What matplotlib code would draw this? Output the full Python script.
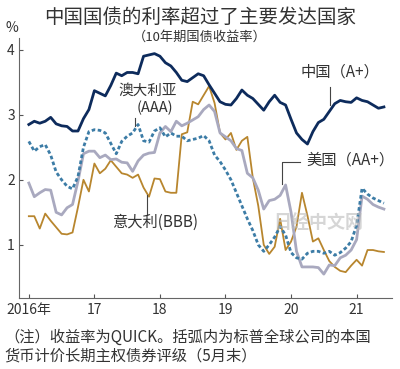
import numpy as np
import matplotlib
matplotlib.use("Agg")
import matplotlib.pyplot as plt

plt.rcParams['font.family'] = ['Noto Sans CJK SC', 'DejaVu Sans']

# monthly 10-year yields, Jan 2016 .. Jun 2021 (%)
china = [2.85, 2.90, 2.87, 2.90, 2.96, 2.86, 2.83, 2.82, 2.75, 2.75, 2.94, 3.08,
         3.37, 3.33, 3.29, 3.45, 3.64, 3.60, 3.65, 3.65, 3.63, 3.90, 3.92, 3.94,
         3.90, 3.80, 3.75, 3.65, 3.53, 3.51, 3.57, 3.63, 3.60, 3.46, 3.33, 3.20,
         3.16, 3.15, 3.25, 3.38, 3.30, 3.25, 3.16, 3.07, 3.20, 3.30, 3.19, 3.15,
         2.93, 2.72, 2.62, 2.55, 2.74, 2.88, 2.93, 3.05, 3.17, 3.22, 3.20, 3.19,
         3.26, 3.22, 3.20, 3.15, 3.10, 3.12]
australia = [2.59, 2.44, 2.51, 2.54, 2.38, 2.12, 2.00, 1.90, 1.86, 2.05, 2.50, 2.74,
             2.77, 2.76, 2.72, 2.56, 2.40, 2.59, 2.67, 2.72, 2.85, 2.60, 2.58, 2.75,
             2.80, 2.66, 2.72, 2.67, 2.67, 2.60, 2.62, 2.64, 2.68, 2.60, 2.38, 2.28,
             2.15, 2.00, 1.80, 1.60, 1.40, 1.22, 1.00, 0.90, 1.00, 1.12, 1.28, 1.15,
             0.88, 0.80, 0.78, 0.87, 0.90, 0.90, 0.87, 0.90, 0.84, 0.88, 0.95, 1.05,
             1.30, 1.87, 1.78, 1.72, 1.68, 1.64]
usa = [1.95, 1.74, 1.80, 1.85, 1.84, 1.50, 1.46, 1.57, 1.62, 1.98, 2.40, 2.44,
       2.44, 2.34, 2.38, 2.31, 2.32, 2.27, 2.26, 2.13, 2.29, 2.38, 2.41, 2.42,
       2.72, 2.82, 2.74, 2.90, 2.83, 2.87, 2.92, 2.97, 3.08, 3.15, 3.05, 2.72,
       2.66, 2.60, 2.48, 2.45, 2.10, 2.03, 1.84, 1.55, 1.68, 1.70, 1.76, 1.92,
       1.50, 0.90, 0.66, 0.66, 0.66, 0.65, 0.55, 0.69, 0.68, 0.80, 0.84, 0.92,
       1.08, 1.75, 1.70, 1.62, 1.58, 1.55]
italy = [1.44, 1.44, 1.25, 1.48, 1.37, 1.27, 1.17, 1.16, 1.19, 1.58, 2.00, 1.82,
         2.25, 2.10, 2.17, 2.30, 2.20, 2.10, 2.08, 2.03, 2.08, 1.88, 1.74, 2.02,
         2.01, 1.82, 1.80, 1.80, 2.70, 2.73, 3.20, 3.16, 3.30, 3.44, 3.18, 2.72,
         2.62, 2.72, 2.46, 2.60, 2.66, 2.03, 1.60, 1.00, 0.86, 0.97, 1.40, 0.92,
         1.05, 1.28, 1.80, 1.45, 1.05, 1.10, 0.92, 0.75, 0.66, 0.60, 0.58, 0.68,
         0.77, 0.68, 0.92, 0.92, 0.90, 0.89]

x = 2016 + np.arange(len(china)) / 12
xticks = [2016, 2017, 2018, 2019, 2020, 2021]
xlabels = ["2016年", "17", "18", "19", "20", "21"]

fig = plt.figure(figsize=(4, 3.69), dpi=100)
ax = fig.add_axes([0.0475, 0.192, 0.9325, 0.705])

ax.plot(x, italy, color="#b8862e", lw=1.3)
ax.plot(x, usa, color="#a9a9bf", lw=2.0)
ax.plot(x, australia, color="#3c7ca6", lw=2.0, linestyle=(0, (1.3, 0.9)))
ax.plot(x, china, color="#0d2b5c", lw=2.0)

ax.set_xlim(2015.85, 2021.54)
ax.set_ylim(0.18, 4.18)
ax.set_xticks(xticks)
ax.set_xticklabels(xlabels)
ax.set_yticks([1, 2, 3, 4])
ax.tick_params(direction="in", length=3, color="#555555", labelcolor="#333333",
               labelsize=10)
ax.tick_params(axis="y", pad=3)
for s in ["top", "right"]:
    ax.spines[s].set_visible(False)
for s in ["left", "bottom"]:
    ax.spines[s].set_color("#666666")

tc = "#333333"
fig.text(0.5, 0.952, "中国国债的利率超过了主要发达国家", ha="center", va="center",
         fontsize=14, color=tc)
fig.text(0.5, 0.898, "（10年期国债收益率）", ha="center", va="center",
         fontsize=9.5, color=tc)
fig.text(0.03, 0.925, "%", ha="center", va="center", fontsize=10, color=tc)

# series labels
ax.text(2017.82, 3.37, "澳大利亚", ha="center", va="center", fontsize=10.5, color=tc)
ax.text(2017.92, 3.11, "(AAA)", ha="center", va="center", fontsize=10.5, color=tc)
ax.plot([2017.62, 2017.62], [2.95, 2.83], color="#444444", lw=0.8)

ax.text(2020.14, 3.65, "中国（A+）", ha="left", va="center", fontsize=11, color=tc)
ax.plot([2020.6, 2020.6], [3.42, 3.15], color="#444444", lw=0.8)

ax.text(2020.23, 2.31, "美国（AA+）", ha="left", va="center", fontsize=11, color=tc)
ax.plot([2020.14, 2019.86, 2019.86], [2.28, 2.28, 1.94], color="#444444", lw=0.8)

ax.text(2017.27, 1.35, "意大利(BBB)", ha="left", va="center", fontsize=11, color=tc)
ax.plot([2017.81, 2017.81], [1.77, 1.46], color="#444444", lw=0.8)

ax.text(2020.41, 1.35, "日经中文网", ha="center", va="center", fontsize=13,
        color="#bbbbbb", alpha=0.6, fontweight="bold")

fig.text(0.012, 0.085, "（注）收益率为QUICK。括弧内为标普全球公司的本国",
         ha="left", va="center", fontsize=11, color=tc)
fig.text(0.012, 0.035, "货币计价长期主权债券评级（5月末）",
         ha="left", va="center", fontsize=11, color=tc)

fig.savefig("out.png", dpi=100)
